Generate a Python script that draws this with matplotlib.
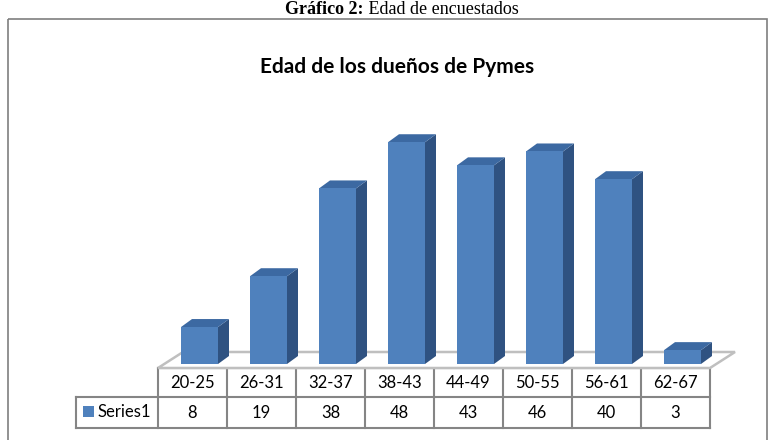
import matplotlib.pyplot as plt
from matplotlib.patches import Polygon, Rectangle

# data
categories = ['20-25', '26-31', '32-37', '38-43', '44-49', '50-55', '56-61', '62-67']
values = [8, 19, 38, 48, 43, 46, 40, 3]
series_name = 'Series1'

caption_bold = 'Gráfico 2:'
caption_rest = ' Edad de encuestados'
chart_title = 'Edad de los dueños de Pymes'

W, H = 775, 440
face_c = '#4F81BD'
side_c = '#2F5281'
top_c = '#3C69A2'
grid_c = '#858585'
font = 'Lato'

fig = plt.figure(figsize=(W / 100, H / 100), dpi=100)

# overlay in pixel coords for frame, titles and data table
ov = fig.add_axes([0, 0, 1, 1])
ov.set_xlim(0, W)
ov.set_ylim(H, 0)
ov.axis('off')

ov.add_patch(Rectangle((8, 19), 759, 440, fill=False, ec='#7F7F7F', lw=1.2))

t1 = ov.text(0, 0, caption_bold, fontsize=13, fontweight='bold',
             family='Liberation Serif', va='center')
t2 = ov.text(0, 0, caption_rest, fontsize=13, family='Liberation Serif', va='center')
fig.canvas.draw()
r = fig.canvas.get_renderer()
w1 = t1.get_window_extent(r).width
w2 = t2.get_window_extent(r).width
x0 = 402 - (w1 + w2) / 2
t1.set_position((x0, 9))
t2.set_position((x0 + w1, 9))

ov.text(397, 67, chart_title, fontsize=15, fontweight='bold', family=font,
        ha='center', va='center')

# bar area: x in category units, y in value units
left_px, right_px = 158, 710
base_px = 364
px_per_unit = 4.62
ymax = 52
n = len(categories)
ax = fig.add_axes([left_px / W, 1 - base_px / H,
                   (right_px - left_px) / W, ymax * px_per_unit / H])
ax.set_xlim(-0.5, n - 0.5)
ax.set_ylim(0, ymax)
ax.axis('off')

col_px = (right_px - left_px) / n
# floor plane
fdx, fdy = 25 / col_px, 16 / px_per_unit
f0 = -4 / px_per_unit
floor = [(-0.5, f0), (n - 0.5, f0), (n - 0.5 + fdx, f0 + fdy), (-0.5 + fdx, f0 + fdy)]
ax.add_patch(Polygon(floor, closed=True, fc='white', ec='#BFBFBF', lw=1.8,
                     clip_on=False, zorder=1))

bw = 37 / col_px
off = 7 / col_px
dx, dy = 11 / col_px, 8 / px_per_unit
for i, v in enumerate(values):
    xl = i + off - bw / 2
    xr = xl + bw
    ax.add_patch(Polygon([(xr, 0), (xr + dx, dy), (xr + dx, v + dy), (xr, v)],
                         fc=side_c, ec='none', clip_on=False, zorder=2))
    ax.add_patch(Polygon([(xl, v), (xr, v), (xr + dx, v + dy), (xl + dx, v + dy)],
                         fc=top_c, ec='none', clip_on=False, zorder=2))
    ax.add_patch(Rectangle((xl, 0), bw, v, fc=face_c, ec='none',
                           clip_on=False, zorder=3))

# data table
row_top, row_mid, row_bot = 368, 397, 428
leg_left = 76
for i in range(n + 1):
    x = left_px + i * col_px
    ov.plot([x, x], [row_top, row_bot], color=grid_c, lw=1.5)
ov.plot([left_px, right_px], [row_top, row_top], color=grid_c, lw=1.5)
ov.plot([leg_left, right_px], [row_mid, row_mid], color=grid_c, lw=1.5)
ov.plot([leg_left, right_px], [row_bot, row_bot], color=grid_c, lw=1.5)
ov.plot([leg_left, leg_left], [row_mid, row_bot], color=grid_c, lw=1.5)

for i, (c, v) in enumerate(zip(categories, values)):
    xc = left_px + (i + 0.5) * col_px
    ov.text(xc, 383, c, fontsize=12, family=font, ha='center', va='center')
    ov.text(xc, 413, str(v), fontsize=12, family=font, ha='center', va='center')

ov.add_patch(Rectangle((83, 406), 11, 11, fc=face_c, ec='none'))
ov.text(97, 412, series_name, fontsize=12, family=font, ha='left', va='center')

fig.savefig('out.png', dpi=100)
